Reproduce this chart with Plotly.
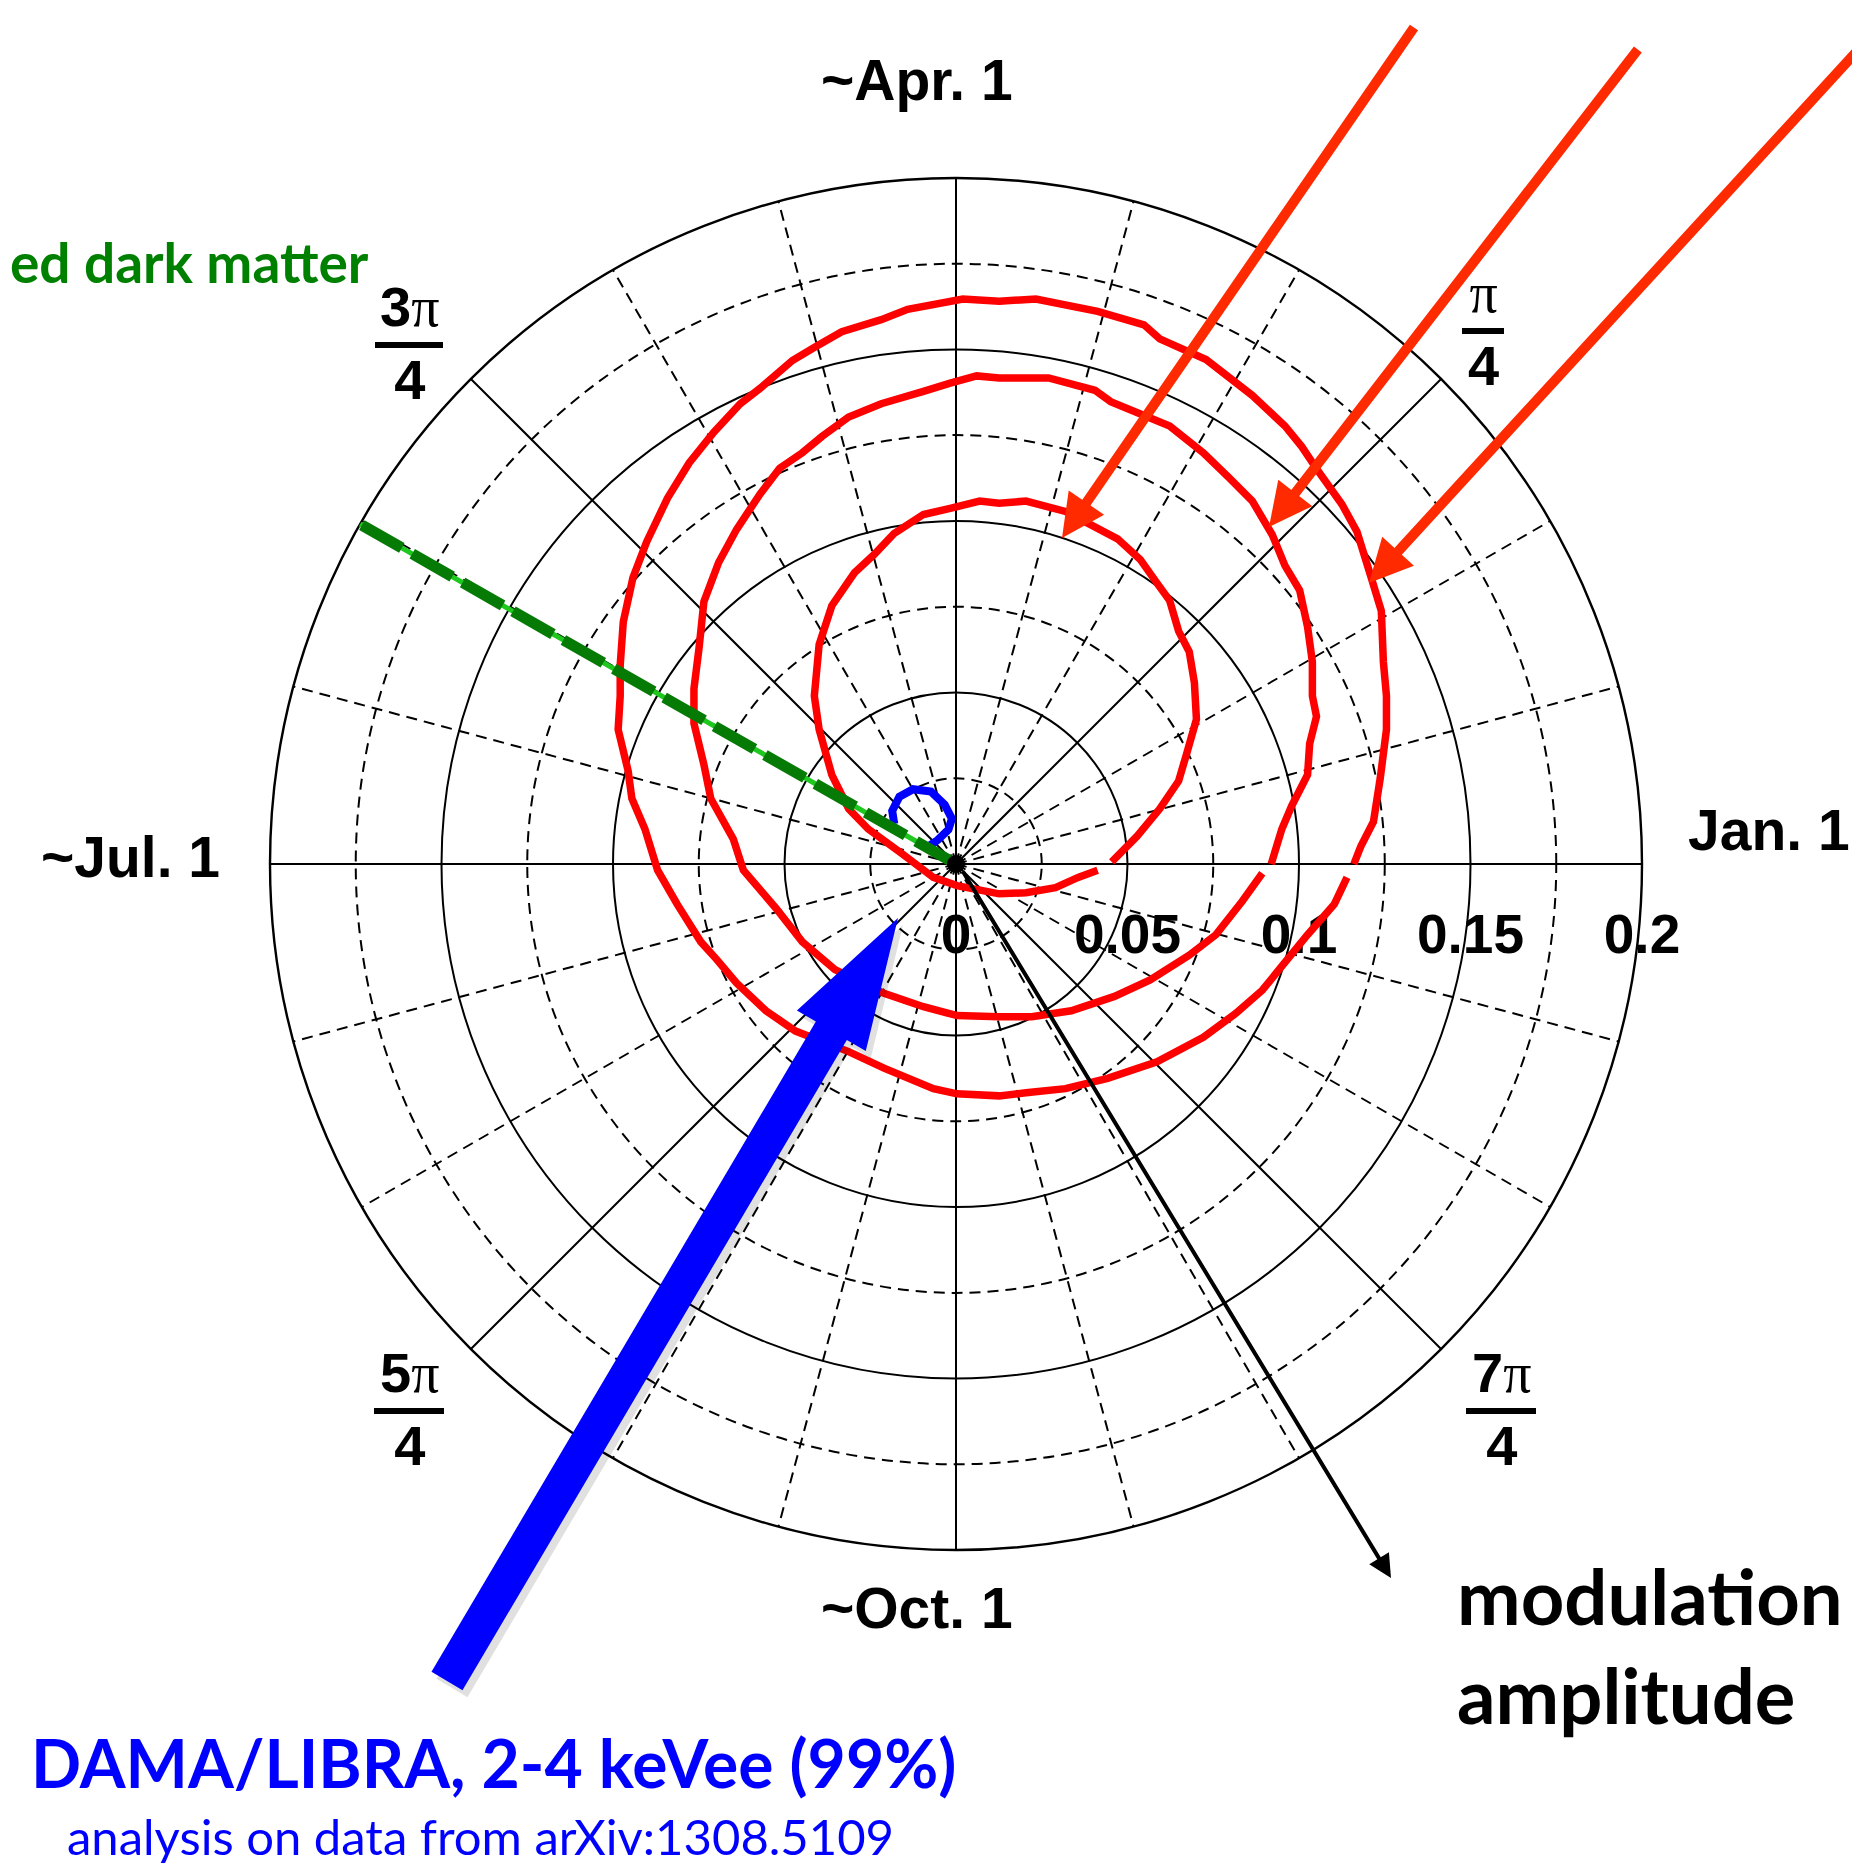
import numpy as np
import plotly.graph_objects as go

# The page body adds an 8px margin, so the figure is drawn 8px in from the corner.
OFF = 8
W, H = 1860 - OFF, 1867 - OFF
CX, CY, R = 956, 864, 686          # centre and radius of the polar frame (screen px)

# ---------------- data ----------------
# modulation components (cos part, sin part) along each red contour
outer_cos = [0.1160, 0.1180, 0.1217, 0.1237, 0.1255, 0.1255, 0.1246, 0.1240, 0.1209, 0.1169,
             0.1125, 0.1054, 0.1008, 0.0959, 0.0864, 0.0729, 0.0594, 0.0548, 0.0413, 0.0233,
             0.0126, 0.0020, -0.0141, -0.0218, -0.0333, -0.0411, -0.0477, -0.0571, -0.0629, -0.0706,
             -0.0778, -0.0841, -0.0902, -0.0942, -0.0970, -0.0979, -0.0979, -0.0985, -0.0956, -0.0945,
             -0.0907, -0.0870, -0.0813, -0.0744, -0.0698, -0.0640, -0.0554, -0.0468, -0.0313, -0.0210,
             -0.0066, 0.0003, 0.0126, 0.0204, 0.0319, 0.0442, 0.0586, 0.0721, 0.0815, 0.0893,
             0.0959, 0.1025, 0.1103, 0.1140]
outer_sin = [0.0000, 0.0051, 0.0123, 0.0251, 0.0392, 0.0490, 0.0589, 0.0738, 0.0840, 0.0969,
             0.1049, 0.1148, 0.1217, 0.1277, 0.1366, 0.1471, 0.1531, 0.1572, 0.1611, 0.1647,
             0.1641, 0.1647, 0.1617, 0.1587, 0.1552, 0.1507, 0.1468, 0.1387, 0.1342, 0.1259,
             0.1169, 0.1067, 0.0939, 0.0834, 0.0706, 0.0580, 0.0490, 0.0392, 0.0272, 0.0191,
             0.0102, -0.0018, -0.0117, -0.0227, -0.0278, -0.0347, -0.0428, -0.0487, -0.0547, -0.0595,
             -0.0655, -0.0670, -0.0676, -0.0667, -0.0655, -0.0625, -0.0577, -0.0505, -0.0436, -0.0368,
             -0.0287, -0.0206, -0.0117, -0.0039]

middle_cos = [0.0919, 0.0950, 0.0979, 0.1025, 0.1031, 0.1051, 0.1039, 0.1039, 0.1025, 0.1002,
              0.0959, 0.0922, 0.0864, 0.0795, 0.0721, 0.0623, 0.0451, 0.0405, 0.0270, 0.0126,
              0.0060, -0.0017, -0.0095, -0.0218, -0.0313, -0.0390, -0.0448, -0.0514, -0.0571, -0.0640,
              -0.0692, -0.0735, -0.0749, -0.0764, -0.0764, -0.0735, -0.0715, -0.0649, -0.0620, -0.0525,
              -0.0448, -0.0353, -0.0210, -0.0095, 0.0003, 0.0126, 0.0221, 0.0336, 0.0462, 0.0566,
              0.0680, 0.0758, 0.0835, 0.0893]
middle_sin = [0.0000, 0.0102, 0.0170, 0.0260, 0.0350, 0.0430, 0.0490, 0.0589, 0.0691, 0.0798,
              0.0870, 0.0960, 0.1058, 0.1127, 0.1199, 0.1277, 0.1348, 0.1381, 0.1417, 0.1417,
              0.1423, 0.1402, 0.1378, 0.1342, 0.1303, 0.1247, 0.1199, 0.1154, 0.1079, 0.0975,
              0.0879, 0.0765, 0.0631, 0.0511, 0.0410, 0.0290, 0.0191, 0.0072, -0.0018, -0.0129,
              -0.0227, -0.0308, -0.0377, -0.0416, -0.0442, -0.0445, -0.0445, -0.0428, -0.0386, -0.0338,
              -0.0266, -0.0206, -0.0108, -0.0027]

inner_cos = [0.0454, 0.0528, 0.0594, 0.0649, 0.0672, 0.0701, 0.0695, 0.0680, 0.0649, 0.0623,
             0.0586, 0.0537, 0.0471, 0.0319, 0.0204, 0.0126, 0.0069, -0.0017, -0.0095, -0.0181,
             -0.0238, -0.0296, -0.0362, -0.0399, -0.0413, -0.0399, -0.0362, -0.0313, -0.0256, -0.0161,
             -0.0066, 0.0003, 0.0126, 0.0204, 0.0290, 0.0356, 0.0413]
inner_sin = [0.0006, 0.0081, 0.0161, 0.0242, 0.0320, 0.0422, 0.0529, 0.0619, 0.0679, 0.0768,
             0.0819, 0.0888, 0.0948, 0.1028, 0.1058, 0.1052, 0.1058, 0.1037, 0.1019, 0.0963,
             0.0903, 0.0849, 0.0753, 0.0640, 0.0490, 0.0392, 0.0260, 0.0161, 0.0102, 0.0033,
             -0.0039, -0.0063, -0.0087, -0.0084, -0.0069, -0.0039, -0.0018]

# DAMA/LIBRA 2-4 keVee (99%) contour
dama_cos = [-0.0180, -0.0186, -0.0165, -0.0125, -0.0073, -0.0033, -0.0012, -0.0022, -0.0053, -0.0075]
dama_sin = [0.0117, 0.0155, 0.0196, 0.0218, 0.0211, 0.0173, 0.0132, 0.0100, 0.0070, 0.0055]

# predicted dark-matter phase (direction of the green line)
dm_phase = [150.3, 150.3]
dm_amp = [0.0, 0.2065]

# axes
radial_vals = [0, 0.05, 0.1, 0.15, 0.2]
radial_text = ["0", "0.05", "0.1", "0.15", "0.2"]
minor_r = [0.025, 0.075, 0.125, 0.175]
angle_vals = [0, 45, 90, 135, 180, 225, 270, 315]
minor_theta = [15, 30, 60, 75, 105, 120, 150, 165, 195, 210, 240, 255, 285, 300, 330, 345]
# angle labels: dates on the cardinal directions, fractions of pi on the diagonals
date_text = ["Jan. 1", "~Apr. 1", "~Jul. 1", "~Oct. 1"]
frac_num = ["π", "3π", "5π", "7π"]
frac_den = ["4", "4", "4", "4"]

AXFONT = "Liberation Sans, Arial, Helvetica, sans-serif"
TXFONT = "Lato, Open Sans, sans-serif"
PI_SPAN = '<span style="font-family:Liberation Serif;font-weight:normal">π</span>'


def to_polar(c, s):
    c = np.asarray(c, float)
    s = np.asarray(s, float)
    return np.hypot(c, s), np.degrees(np.arctan2(s, c))


def px(x, y):
    """screen pixel -> paper coordinates"""
    return (x - OFF) / W, 1 - (y - OFF) / H


fig = go.Figure()

# host trace for the lower (dashed-grid) polar frame
fig.add_trace(go.Scatterpolar(r=[0], theta=[0], mode="markers", subplot="polar",
                              marker=dict(size=1, color="rgba(0,0,0,0)"), hoverinfo="skip"))

for cc, ss in [(outer_cos, outer_sin), (middle_cos, middle_sin), (inner_cos, inner_sin)]:
    r, t = to_polar(cc, ss)
    fig.add_trace(go.Scatterpolar(r=r, theta=t, mode="lines", subplot="polar2",
                                  line=dict(color="#ff0000", width=7.5), hoverinfo="skip"))

r, t = to_polar(dama_cos, dama_sin)
fig.add_trace(go.Scatterpolar(r=r, theta=t, mode="lines", subplot="polar2",
                              line=dict(color="#0000ff", width=8), hoverinfo="skip"))

fig.add_trace(go.Scatterpolar(r=dm_amp, theta=dm_phase, mode="lines", subplot="polar2", cliponaxis=False,
                              line=dict(color="#1ec81e", width=5), hoverinfo="skip"))
fig.add_trace(go.Scatterpolar(r=dm_amp, theta=dm_phase, mode="lines", subplot="polar2", cliponaxis=False,
                              line=dict(color="#057a05", width=11, dash="46px,12px"), hoverinfo="skip"))

fig.add_trace(go.Scatterpolar(r=[0], theta=[0], mode="markers", subplot="polar2",
                              marker=dict(color="black", size=18), hoverinfo="skip"))

x0, y0 = px(CX - R, CY + R)
x1, y1 = px(CX + R, CY - R)
dom = dict(x=[x0, x1], y=[y0, y1])
grid = dict(gridcolor="black", gridwidth=1.7)
dash = dict(gridcolor="black", gridwidth=1.5, griddash="11px,7px")

fig.update_layout(
    width=W, height=H, margin=dict(l=0, r=0, t=0, b=0),
    paper_bgcolor="white", showlegend=False,
    polar=dict(
        domain=dom, bgcolor="white",
        radialaxis=dict(range=[0, 0.2], tickmode="array", tickvals=minor_r, showticklabels=False,
                        ticks="", showline=False, **dash),
        angularaxis=dict(rotation=0, direction="counterclockwise", tickmode="array",
                         tickvals=minor_theta, showticklabels=False, ticks="", showline=False, **dash),
    ),
    polar2=dict(
        domain=dom, bgcolor="rgba(0,0,0,0)",
        radialaxis=dict(range=[0, 0.2], tickmode="array", tickvals=radial_vals, ticktext=radial_text,
                        angle=0, side="clockwise", showline=False, ticks="outside", ticklen=22,
                        tickcolor="rgba(0,0,0,0)", layer="below traces",
                        tickfont=dict(family=AXFONT, size=55, color="black", weight="bold"), **grid),
        angularaxis=dict(rotation=0, direction="counterclockwise", tickmode="array",
                         tickvals=angle_vals, showticklabels=False, showline=True, linecolor="black",
                         linewidth=2.4, ticks="", layer="below traces", **grid),
    ),
)

# ---------------- overlay annotations ----------------
def arrow(tip, tail, color, width, size, head=2):
    x, y = px(*tip)
    fig.add_annotation(x=x, y=y, xref="paper", yref="paper", text="", showarrow=True,
                       ax=tail[0] - tip[0], ay=tail[1] - tip[1], arrowcolor=color,
                       arrowwidth=width, arrowsize=size, arrowhead=head, standoff=0)


arrow((1062, 538), (1415, 26), "#ff2a00", 10, 0.86)
arrow((1269, 527), (1639, 48), "#ff2a00", 10, 0.86)
arrow((1369, 583), (1866, 48), "#ff2a00", 10, 0.86)
arrow((1391, 1578), (962, 870), "black", 4, 1.15)

# big blue arrow (filled path) with a faint drop shadow
tip = np.array([898.0, 918.0])
tail = np.array([447.0, 1681.0])
u = (tail - tip) / np.linalg.norm(tail - tip)
n = np.array([u[1], -u[0]])
head_len, head_half, shaft_half = 131, 40, 18
hb = tip + head_len * u
pts = [tip, hb + head_half * n, hb + shaft_half * n, tail + shaft_half * n,
       tail - shaft_half * n, hb - shaft_half * n, hb - head_half * n]
for shift, colr in [((5, 7), "rgba(0,0,0,0.12)"), ((0, 0), "#0000ff")]:
    path = "M " + " L ".join("%.5f,%.5f" % px(p[0] + shift[0], p[1] + shift[1]) for p in pts) + " Z"
    fig.add_shape(type="path", path=path, xref="paper", yref="paper",
                  fillcolor=colr, line=dict(width=0), layer="above")


def label(text, x, y, size, color, weight="bold", family=TXFONT, xanchor="left", align="left"):
    xx, yy = px(x, y)
    fig.add_annotation(x=xx, y=yy, xref="paper", yref="paper", text=text, showarrow=False,
                       xanchor=xanchor, yanchor="middle", align=align,
                       font=dict(family=family, size=size, color=color, weight=weight))


# date labels at the cardinal directions
date_pos = [(1686, 830, "left"), (917, 80, "center"), (222, 857, "right"), (917, 1608, "center")]
for txt, (x, y, anc) in zip(date_text, date_pos):
    label(txt, x, y, 57, "black", family=AXFONT, xanchor=anc, align="center")

# fraction labels on the diagonals: (centre x, bar y, bar half-width)
frac_pos = [(1483, 331, 21), (409, 345, 34), (409, 1411, 35), (1501, 1411, 35)]
for num, den, (x, yb, hw) in zip(frac_num, frac_den, frac_pos):
    label(num.replace("π", PI_SPAN) + "<br>" + den, x, yb - 2, 56, "black",
          family=AXFONT, xanchor="center", align="center")
    xa, ya = px(x - hw, yb)
    xb, _ = px(x + hw, yb)
    fig.add_shape(type="line", x0=xa, x1=xb, y0=ya, y1=ya, xref="paper", yref="paper",
                  line=dict(color="black", width=6))

label("ed dark matter", OFF, 262, 55, "#008000")
label("DAMA/LIBRA, 2-4 keVee (99%)", 29, 1762, 66, "#0000ff")
label("analysis on data from arXiv:1308.5109", 65, 1836, 49, "#0000ff", weight="normal")
label("modulation<br>amplitude", 1455, 1645, 76, "black", align="left")

fig.write_html("out.html")
